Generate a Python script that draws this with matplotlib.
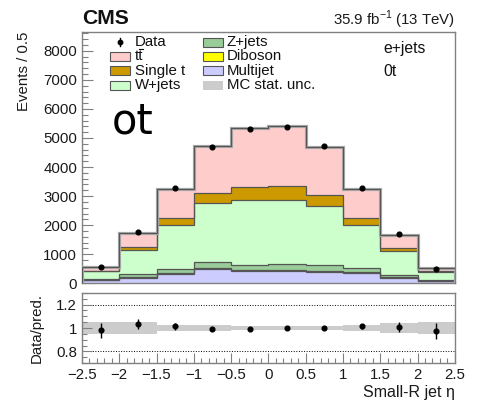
import numpy as np
import matplotlib
matplotlib.use("Agg")
import matplotlib.pyplot as plt
from matplotlib.patches import Rectangle
from matplotlib.lines import Line2D
from matplotlib.ticker import MultipleLocator

plt.rcParams['font.family'] = ['Liberation Sans', 'DejaVu Sans']

# ---------------- data ----------------
edges = [-2.5, -2.0, -1.5, -1.0, -0.5, 0.0, 0.5, 1.0, 1.5, 2.0, 2.5]
multijet = [100, 178, 315, 485, 417, 405, 383, 350, 178, 60]
diboson = [15, 22, 30, 45, 45, 57, 34, 33, 22, 10]
zjets = [35, 100, 140, 183, 171, 193, 193, 157, 67, 30]
wjets = [255, 840, 1505, 2037, 2227, 2225, 2040, 1470, 833, 270]
singlet = [25, 100, 240, 360, 450, 460, 370, 240, 105, 35]
ttbar = [135, 480, 1010, 1630, 2040, 2070, 1680, 990, 465, 105]
data = [553, 1780, 3290, 4705, 5310, 5390, 4715, 3290, 1685, 497]
data_relerr = [0.065, 0.04, 0.03, 0.015, 0.012, 0.012, 0.012, 0.02, 0.04, 0.065]
mc_relunc = [0.05, 0.048, 0.028, 0.022, 0.018, 0.018, 0.02, 0.026, 0.045, 0.05]

components = [
    ("Multijet", multijet, "#ccccff"),
    ("Diboson", diboson, "#ffff00"),
    ("Z+jets", zjets, "#99cc99"),
    ("W+jets", wjets, "#ccffcc"),
    ("Single t", singlet, "#cc9900"),
    ("tt", ttbar, "#ffcccc"),
]
edge_col = "#555555"

edges_a = np.array(edges)
centers = 0.5 * (edges_a[:-1] + edges_a[1:])

fig = plt.figure(figsize=(4.81, 4.0), dpi=100)
ax = fig.add_axes([0.1705, 0.292, 0.775, 0.628])
rax = fig.add_axes([0.1705, 0.092, 0.775, 0.176])

frame_col = "#808080"
txt_col = "#1a1a1a"
fs = 10.8

base = np.zeros(len(centers))
for name, vals, fc in components:
    v = np.array(vals, dtype=float)
    ax.stairs(base + v, edges_a, baseline=base, fill=True, color=fc, zorder=2)
    base = base + v
total = base
# component outlines
base = np.zeros(len(centers))
for name, vals, fc in components[:-1]:
    base = base + np.array(vals, dtype=float)
    ax.stairs(base, edges_a, baseline=None, color=edge_col, lw=0.9, zorder=3)
# total outline with grey MC-unc halo
ax.stairs(total, edges_a, baseline=0, color="#a8a8a8", lw=2.3, zorder=4)
ax.stairs(total, edges_a, baseline=0, color=edge_col, lw=0.8, zorder=5)

dat = np.array(data, dtype=float)
ax.errorbar(centers, dat, yerr=dat * np.array(data_relerr) * 0.3, fmt='o',
            color='black', ms=3.4, lw=1, zorder=6)

ax.set_xlim(-2.5, 2.5)
ax.set_ylim(0, 8650)
ax.yaxis.set_major_locator(MultipleLocator(1000))
ax.yaxis.set_minor_locator(MultipleLocator(200))
ax.xaxis.set_major_locator(MultipleLocator(0.5))
ax.xaxis.set_minor_locator(MultipleLocator(0.1))
ax.tick_params(axis='both', which='both', direction='in', colors=frame_col,
               labelcolor=txt_col, labelsize=fs, width=0.8)
ax.tick_params(axis='both', which='major', length=8)
ax.tick_params(axis='both', which='minor', length=4)
ax.tick_params(axis='x', labelbottom=False)
for s in ax.spines.values():
    s.set_color(frame_col)
    s.set_linewidth(1.0)
ax.set_ylabel("Events / 0.5", fontsize=fs, color=txt_col, loc='top')
ax.yaxis.set_label_coords(-0.137, 1.0)

# ratio panel
ratio = dat / total
rax.stairs(1 + np.array(mc_relunc), edges_a, baseline=1 - np.array(mc_relunc),
           fill=True, color="#cccccc", lw=0, zorder=1)
rax.axhline(1.2, color='black', ls=':', lw=0.7, zorder=0)
rax.axhline(0.8, color='black', ls=':', lw=0.7, zorder=0)
rax.axhline(1.0, color='black', ls=':', lw=0.7, zorder=0)
rax.errorbar(centers, ratio, yerr=np.array(data_relerr), fmt='o', color='black',
             ms=3.4, lw=1, zorder=5)
rax.set_xlim(-2.5, 2.5)
rax.set_ylim(0.7, 1.3)
rax.set_yticks([0.8, 1.0, 1.2])
rax.set_yticklabels(["0.8", "1", "1.2"])
rax.yaxis.set_minor_locator(MultipleLocator(0.05))
rax.xaxis.set_minor_locator(MultipleLocator(0.1))
rax.set_xticks([-2.5, -2, -1.5, -1, -0.5, 0, 0.5, 1, 1.5, 2, 2.5])
rax.set_xticklabels(["\u22122.5", "\u22122", "\u22121.5", "\u22121", "\u22120.5", "0",
                     "0.5", "1", "1.5", "2", "2.5"])
rax.tick_params(axis='both', which='both', direction='in', colors=frame_col,
                labelcolor=txt_col, labelsize=fs, width=0.8)
rax.tick_params(axis='both', which='major', length=7)
rax.tick_params(axis='both', which='minor', length=3.5)
for s in rax.spines.values():
    s.set_color(frame_col)
    s.set_linewidth(1.0)
rax.set_ylabel("Data/pred.", fontsize=fs, color=txt_col)
rax.yaxis.set_label_coords(-0.103, 0.5)
rax.set_xlabel("Small-R jet \u03b7", fontsize=11.5, color=txt_col, loc='right', labelpad=2)

# titles
fig.text(82 / 481, 1 - 18 / 400, "CMS", fontsize=15.2, fontweight='bold',
         ha='left', va='center', color='#111111')
fig.text(455 / 481, 1 - 20 / 400, r"35.9 fb$^{\mathregular{-1}}$ (13 TeV)", fontsize=fs,
         ha='right', va='center', color=txt_col)

# legend (manual, ROOT-like two columns)
leg_rows_y = [42, 56, 70.5, 85]
col1 = [("Data", None), ("tt", components[5]), ("Single t", components[4]),
        ("W+jets", components[3])]
col2 = [("Z+jets", components[2]), ("Diboson", components[1]),
        ("Multijet", components[0]), ("MC stat. unc.", "unc")]

def px2fig(x, y):
    return x / 481, 1 - y / 400

for (label, comp), yy in zip(col1, leg_rows_y):
    if comp is None:
        fx, fy = px2fig(120, yy)
        fig.lines.append(Line2D([fx], [fy], marker='o', ms=3.2, color='black',
                                transform=fig.transFigure))
        fig.lines.append(Line2D([fx, fx], [fy - 4 / 400, fy + 4 / 400], color='black',
                                lw=1, transform=fig.transFigure))
    else:
        fx, fy = px2fig(110, yy + 4.5)
        fig.patches.append(Rectangle((fx, fy), 20 / 481, 9 / 400, facecolor=comp[2],
                                     edgecolor=edge_col, lw=0.8, transform=fig.transFigure))
    tx, ty = px2fig(135, yy)
    fig.text(tx, ty, label, fontsize=fs, ha='left', va='center', color='#111111')
    if label == "tt":
        # anti-top bar over the second t
        x0, y0 = px2fig(139.0, yy - 6.8)
        x1, _ = px2fig(143.0, yy - 6.8)
        fig.lines.append(Line2D([x0, x1], [y0, y0], color='#111111', lw=0.8,
                                transform=fig.transFigure))

for (label, comp), yy in zip(col2, leg_rows_y):
    fx, fy = px2fig(203, yy + 4.5)
    if comp == "unc":
        fig.patches.append(Rectangle((fx, fy), 20 / 481, 9 / 400, facecolor="#cccccc",
                                     edgecolor='none', transform=fig.transFigure))
    else:
        fig.patches.append(Rectangle((fx, fy), 20 / 481, 9 / 400, facecolor=comp[2],
                                     edgecolor=edge_col, lw=0.8, transform=fig.transFigure))
    tx, ty = px2fig(227, yy)
    fig.text(tx, ty, label, fontsize=fs, ha='left', va='center', color='#111111')

tx, ty = px2fig(383, 49)
fig.text(tx, ty, "e+jets", fontsize=11.3, ha='left', va='center', color='#111111')
tx, ty = px2fig(383, 72)
fig.text(tx, ty, "0t", fontsize=11.3, ha='left', va='center', color='#111111')

tx, ty = px2fig(112, 133)
fig.text(tx, ty, "ot", fontsize=30, ha='left', va='baseline', color='black',
         family='DejaVu Sans')

fig.savefig("out.png", dpi=100)
